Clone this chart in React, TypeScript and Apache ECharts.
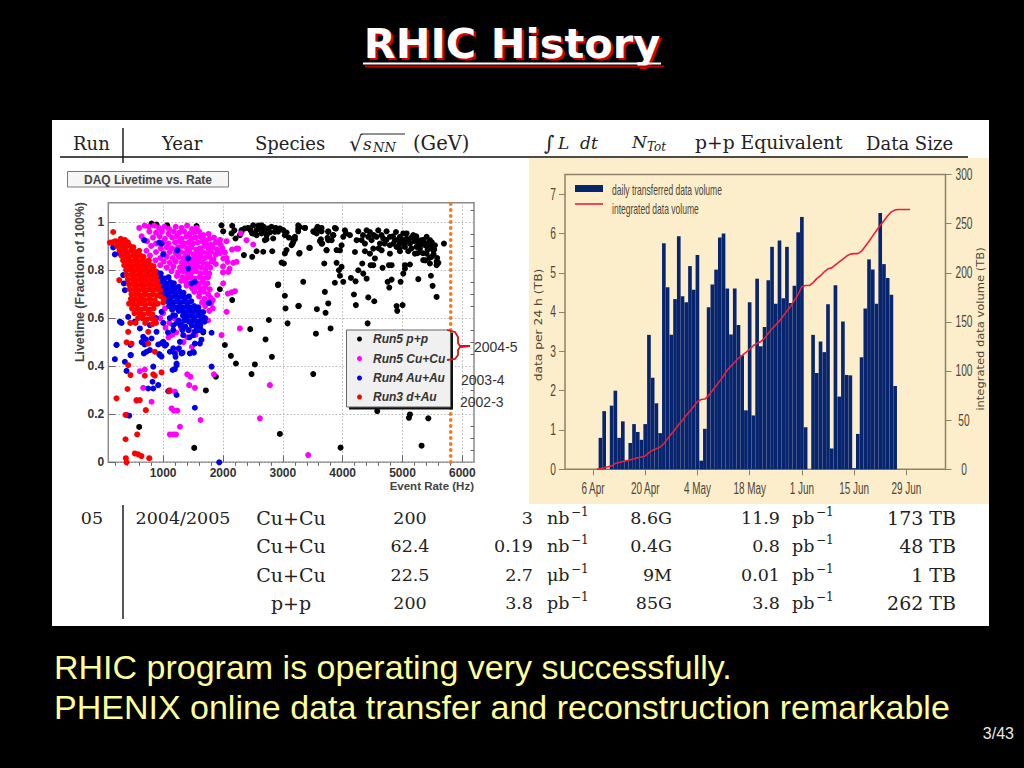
import React, { useEffect, useRef } from "react";
import * as echarts from "echarts";

// ---------- bar panel data ----------
const MONTH_DAYS: [string, number, number][] = [["Mar", 30, 31], ["Apr", 1, 30], ["May", 1, 31], ["Jun", 1, 30], ["Jul", 1, 9]];
const DAY_CATEGORIES: string[] = MONTH_DAYS.flatMap(([m, a, b]) => {
  const out: string[] = [];
  for (let d = a; d <= b; d++) out.push(`${d} ${m}`);
  return out;
});
const DATE_TICKS = ["6 Apr", "20 Apr", "4 May", "18 May", "1 Jun", "15 Jun", "29 Jun"];
const LEFT_TICKS = [0, 1, 2, 3, 4, 5, 6, 7];
const RIGHT_TICKS = [0, 50, 100, 150, 200, 250, 300];
const BAR_FIRST_CATEGORY = 9; // 8 Apr
const DAILY_TB = [
  0.8, 1.48, 0, 1.62, 2.0, 0.8, 1.22, 0.22, 0.67, 1.15, 0.95, 0.75, 1.15, 3.42, 2.33, 1.68, 0.92, 5.75, 4.63, 3.42,
  4.33, 5.93, 4.4, 4.25, 5.17, 4.57, 5.45, 0.22, 1.03, 4.12, 4.7, 5.08, 5.9, 6.0, 4.6, 3.43, 4.6, 3.67, 2.9, 1.5,
  4.25, 1.37, 4.85, 3.13, 3.62, 4.81, 5.66, 4.21, 5.82, 4.35, 5.66, 4.23, 4.67, 6.03, 6.42, 1.07, 0, 3.42, 2.45, 3.25,
  2.98, 4.2, 0.53, 4.68, 1.85, 3.76, 2.4, 2.39, 0.03, 0.9, 2.85, 4.09, 5.34, 5.08, 4.21, 6.52, 5.22, 4.87, 4.44, 2.12,
];
const LINE_FIRST_CATEGORY = 8; // 7 Apr
const INTEGRATED_TB = [
  0, 0.7, 1.5, 2.5, 3.5, 6, 7, 8, 8.8, 9.8, 10.7, 11.7, 12.6, 13.6, 17, 19.5, 21, 22.5, 26, 31, 36, 40.5, 45.5, 50, 55,
  59, 64, 69, 71, 71.5, 75, 80, 85, 90, 95, 101, 105, 109, 113, 116, 119, 122, 126, 128, 130, 133.5, 138.5, 143, 147,
  151, 156, 161, 166, 172, 178, 186, 187, 187, 190, 194, 197, 201, 204, 205, 208, 211, 214, 217, 219, 219.5, 219.5,
  222, 227, 232, 237.5, 243, 248, 253, 258, 262, 264, 264.4, 264.4, 264.4, 264.4,
];

// ---------- scatter panel data (rate in Hz, livetime fraction) ----------
const X_MAJOR = [1000, 2000, 3000, 4000, 5000, 6000];
const X_MINOR = [200, 400, 600, 800, 1200, 1400, 1600, 1800, 2200, 2400, 2600, 2800, 3200, 3400, 3600, 3800, 4200, 4400, 4600, 4800, 5200, 5400, 5600, 5800];
const Y_MAJOR = [0, 0.2, 0.4, 0.6, 0.8, 1];
const Y_MINOR = [0.05, 0.1, 0.15, 0.25, 0.3, 0.35, 0.45, 0.5, 0.55, 0.65, 0.7, 0.75, 0.85, 0.9, 0.95, 1.05];
const RATE_LIMIT = 5806;

const RUN5_PP: number[][] = [
  [1975,.986],[2003,.961],[2154,.984],[2143,.952],[2310,.966],[2366,.973],[2421,.975],[2505,.986],[2561,.966],[2616,.973],[2644,.986],[2700,.966],[2756,.973],[2811,.98],[2784,.956],[2561,.945],[2488,.952],[2644,.952],[2867,.959],[2728,.928],[2700,.924],[2839,.931],[2951,.973],[3006,.966],[3062,.956],[3034,.945],[2209,.931],[2282,.945],[2310,.959],[3202,.938],[3174,.917],[3257,.986],[3257,.961],[3369,.975],[3508,.961],[3564,.97],[3580,.98],[3647,.975],[3647,.961],[3759,.961],[3870,.975],[3842,.945],[3748,.934],[3815,.924],[3636,.928],[3658,.91],[3202,.928],[3146,.903],
  [3452,.892],[2561,.878],[2672,.876],[2823,.878],[3062,.883],[3034,.869],[3280,.871],[3731,.883],[3898,.883],[2349,.862],[2488,.855],[2979,.831],[3018,.827],[3692,.827],[3898,.83],[3982,.813],[3937,.799],[3954,.776],[2923,.74],[3341,.751],[3870,.747],[4010,.751],[3703,.709],[3034,.693],[3759,.661],[3268,.651],[3045,.64],[3569,.637],[3714,.622],[2767,.592],[3079,.578],[3798,.557],[2455,.554],[3553,.535],[2711,.511],[2031,.488],[1948,.72],[2154,.675],[2132,.443],[2216,.411],[1881,.356],[1714,.299],[1669,.54],[2817,.439],[2533,.407],[2477,.367],[2951,.118],[1519,.06],[599,.147],[806,.993],[889,.989],[1067,.986],[1558,.983],[2918,.737],[3258,.65],
  [3174,.931],[3163,.91],[3257,.972],[3285,.979],[3369,.975],[3519,.958],[3592,.975],[3564,.952],[3759,.958],[3842,.945],[3759,.924],[3620,.92],[3647,.91],[3887,.972],[4038,.965],[4121,.945],[4010,.938],[4054,.952],[3982,.903],[3954,.882],[3731,.882],[3441,.892],[3274,.868],[4260,.961],[4400,.965],[4456,.958],[4595,.965],[4734,.961],[4890,.958],[5069,.952],[5180,.945],[5013,.952],[4957,.938],[4233,.924],[4316,.924],[4428,.938],[4372,.91],[4483,.924],[4567,.938],[4678,.931],[4790,.938],[4873,.924],[4957,.91],[5069,.931],[5124,.91],[5041,.896],[4901,.896],[4790,.903],[4623,.91],[4511,.889],[4372,.878],[4205,.875],[4456,.868],[4539,.848],[4511,.82],[4467,.82],[4651,.882],[4790,.868],[4957,.878],[5096,.878],[5236,.896],[5208,.868],[5319,.924],[5403,.938],[5459,.924],[5375,.903],[5291,.889],[5403,.868],[5514,.882],[5542,.903],[5693,.91],[5486,.855],[5570,.834],[5570,.82],[5347,.841],[5459,.827],[5041,.82],[5124,.823],[5041,.806],[5013,.785],[4818,.82],[4773,.82],[4667,.809],[4327,.827],[4260,.799],[4344,.785],[4400,.764],[4138,.767],[4216,.753],[4751,.751],[4818,.76],[4779,.727],[4968,.751],[5264,.762],[5475,.776],[5503,.734],[4188,.698],[4428,.686],[4528,.67],[5570,.688],[4221,.654],[5002,.654],[4901,.65],[4912,.63],[4417,.578],[4578,.213],[5124,.199],[5108,.185],[5431,.183],[5319,.069],[3965,.061],[3508,.367],
  [5100,.925],[5150,.935],[5250,.925],[5300,.905],[5350,.925],[5400,.91],[5450,.905],[5500,.89],[5420,.885],[5520,.865],[5580,.85],[5600,.83],[5000,.925],[5030,.91],[4850,.91],[4700,.91],[4600,.89],[4950,.89],[5150,.89],[5340,.87],[5250,.87],[5450,.85],[5380,.84],
  [2190,.965],[2460,.965],[2530,.95],[2590,.985],[2680,.98],[2730,.945],[2880,.975],[2920,.96],[3100,.935],[4340,.945],[4520,.945],[4650,.945],[4730,.925],[4840,.94],[4920,.925],[5200,.92],[5270,.905],[5490,.915],[5530,.885],[5230,.94],
];

const RUN5_CUCU: number[][] = [
  [600,.975],[690,.985],[760,.98],[850,.985],[930,.975],[1020,.98],[1100,.97],[1210,.98],[1310,.975],[1400,.985],[1480,.97],[1560,.975],
  [770,.96],[880,.955],[980,.96],[1090,.95],[1180,.96],[1270,.955],[1350,.96],[1440,.95],[1520,.955],[1600,.96],[1670,.945],[1760,.95],
  [640,.94],[830,.935],[940,.94],[1030,.93],[1150,.935],[1230,.94],[1310,.93],[1390,.94],[1470,.93],[1540,.935],[1620,.94],[1690,.925],[1770,.93],[1850,.935],[1950,.925],
  [730,.92],[880,.91],[1000,.915],[1090,.91],[1200,.915],[1280,.92],[1350,.91],[1430,.915],[1500,.91],[1580,.915],[1650,.92],[1720,.91],[1800,.905],[1880,.915],[1960,.905],[2060,.92],
  [800,.9],[960,.89],[1060,.895],[1150,.89],[1250,.895],[1320,.9],[1400,.89],[1470,.895],[1550,.885],[1620,.89],[1690,.9],[1760,.89],[1830,.895],[1900,.885],[1990,.89],[2150,.885],
  [720,.88],[880,.875],[1010,.87],[1110,.875],[1210,.87],[1290,.875],[1370,.87],[1440,.875],[1510,.865],[1590,.87],[1660,.875],[1730,.87],[1800,.875],[1880,.865],[1950,.87],
  [780,.86],[950,.85],[1060,.855],[1160,.85],[1260,.855],[1340,.85],[1410,.855],[1490,.845],[1560,.85],[1630,.855],[1700,.85],[1770,.855],[1840,.845],[2060,.85],
  [870,.84],[1010,.835],[1110,.83],[1210,.835],[1310,.83],[1390,.835],[1460,.825],[1530,.83],[1600,.835],[1670,.83],[1740,.825],[1810,.835],[1880,.825],[2170,.83],
  [950,.82],[1060,.81],[1170,.815],[1280,.81],[1360,.815],[1430,.805],[1500,.81],[1570,.815],[1640,.81],[1710,.805],[1790,.81],[2000,.815],[2110,.805],
  [1140,.795],[1250,.79],[1330,.795],[1400,.785],[1480,.79],[1550,.795],[1620,.785],[1700,.79],[1770,.785],[2000,.79],
  [1230,.775],[1320,.77],[1390,.765],[1460,.77],[1530,.765],[1610,.77],[1680,.765],[1750,.77],
  [1300,.755],[1380,.75],[1450,.745],[1520,.75],[1600,.745],[1660,.75],[1740,.745],
  [1390,.735],[1480,.725],[1560,.73],[1620,.725],[1700,.73],[1780,.72],
  [1520,.71],[1610,.705],[1680,.71],[1750,.7],[2080,.702],[2200,.712],[2143,.707],[2003,.744],[1903,.696],
  [1600,.69],[1690,.68],[1790,.685],[1650,.665],[1720,.67],[1800,.66],[1830,.675],[1700,.65],[1770,.63],[1830,.64],[2060,.626],
  [1000,.62],[1100,.58],[1180,.6],[1300,.56],[1150,.53],[1400,.52],[1480,.48],[1250,.47],[1620,.56],[1750,.59],[1976,.529],[2282,.557],
  [950,.6],[1040,.56],[1220,.54],[1090,.52],[1340,.5],[1540,.53],[1440,.55],[1030,.64],[1180,.64],
  [611,.379],[694,.386],[666,.31],[555,.256],[806,.252],[1140,.224],[1179,.215],[1235,.215],[1280,.148],[1112,.116],[1168,.116],[1213,.116],[1625,.176],[388,.197],[1196,.294],[1402,.366],[1458,.356],[1435,.321],[1530,.31],[1848,.366],[1112,.3],[2784,.321],[2617,.183],[3424,.03],
  [2255,.889],[2227,.834],[2087,.792],[2004,.848],[2505,.906],[2393,.924],[2299,.952],[2226,.889],[2076,.834],[2031,.873],
];

const RUN4_AUAU: number[][] = [
  [900,.79],[960,.785],[900,.77],[960,.77],[1020,.765],[1090,.77],[930,.75],[1000,.75],[1060,.745],[1120,.75],[1180,.745],
  [950,.73],[1020,.73],[1080,.725],[1140,.73],[1200,.725],[1260,.73],[960,.71],[1040,.71],[1100,.705],[1160,.71],[1220,.705],[1280,.71],[1340,.705],
  [1000,.69],[1070,.69],[1130,.685],[1190,.69],[1250,.685],[1310,.69],[1370,.685],[1430,.69],[1050,.67],[1110,.67],[1170,.665],[1230,.67],[1290,.665],[1350,.67],[1410,.665],[1470,.67],
  [1100,.65],[1160,.65],[1220,.645],[1280,.65],[1340,.645],[1400,.65],[1460,.645],[1520,.65],[1590,.645],[1150,.635],[1260,.63],[1320,.63],[1380,.625],[1440,.63],[1500,.625],[1560,.63],[1620,.625],[1670,.625],
  [1200,.61],[1330,.61],[1400,.605],[1460,.61],[1520,.605],[1590,.61],[1650,.605],[1700,.6],[1260,.59],[1350,.59],[1430,.585],[1500,.59],[1560,.585],[1630,.59],[1690,.585],
  [1170,.57],[1290,.57],[1370,.565],[1480,.57],[1550,.565],[1620,.57],[1320,.55],[1420,.55],[1530,.545],[1590,.55],[1670,.545],
  [165,.894],[193,.865],[276,.869],[332,.779],[343,.744],[360,.716],[683,.924],[934,.914],[1001,.865],[1235,.882],[1419,.848],[1419,.806],[1530,.751],[1475,.744],[973,.91],[1764,.663],
  [304,.58],[220,.488],[193,.429],[360,.418],[388,.38],[454,.446],[415,.605],[527,.585],[611,.557],[711,.512],[1809,.539],[1614,.494],[1502,.46],[1446,.453],[1307,.453],[1207,.439],[1224,.404],[1196,.388],[1001,.501],[1050,.49],[945,.446],[722,.46],[677,.453],[889,.543],[806,.515],[1112,.46],[1168,.474],[1280,.501],[1614,.557],[1809,.398],[834,.398],[822,.335],[750,.307],[834,.307],[917,.321],[1085,.296],[1224,.28],[1530,.227],[432,.194],[1937,0],
  [221,.489],[455,.488],[640,.5],[690,.49],[460,.446],[778,.467],[917,.49],[973,.495],[1030,.485],[934,.45],[973,.44],[1196,.453],[1263,.474],[1324,.456],[1514,.456],[1530,.494],[1157,.384],[1224,.411],
  [276,.585],[778,.571],[666,.522],[973,.626],[1168,.612],[1307,.571],[1502,.529],[1335,.529],[1168,.55],[1080,.54],[1000,.58],[880,.6],[1110,.6],[1230,.58],[1440,.52],[1640,.51],
];

const RUN3_DAU: number[][] = [
  [290,.93],[360,.925],[150,.915],[200,.92],[270,.92],[340,.915],[410,.915],[230,.9],[300,.9],[370,.895],[440,.9],[500,.895],
  [270,.88],[340,.88],[410,.875],[470,.88],[540,.875],[600,.88],[300,.86],[370,.86],[430,.855],[500,.86],[560,.855],[620,.86],[670,.855],
  [330,.84],[400,.84],[470,.835],[530,.84],[590,.835],[650,.84],[710,.835],[760,.84],[350,.82],[420,.82],[490,.815],[550,.82],[610,.815],[670,.82],[730,.815],[790,.82],[840,.815],
  [380,.8],[450,.8],[510,.795],[570,.8],[630,.795],[690,.8],[750,.795],[810,.8],[870,.795],[390,.78],[470,.78],[530,.775],[590,.78],[650,.775],[710,.78],[770,.775],[830,.78],[880,.775],
  [410,.76],[490,.76],[550,.755],[610,.76],[670,.755],[730,.76],[790,.755],[850,.76],[900,.755],[430,.74],[500,.74],[570,.735],[630,.74],[690,.735],[750,.74],[810,.735],[870,.74],[920,.735],
  [440,.72],[520,.72],[590,.715],[650,.72],[710,.715],[770,.72],[830,.715],[890,.72],[950,.715],[470,.7],[550,.7],[620,.695],[690,.7],[760,.695],[830,.7],[900,.695],[960,.69],[1010,.68],
  [460,.68],[530,.68],[590,.675],[640,.68],[700,.675],[780,.68],[860,.675],[1000,.665],[430,.66],[500,.66],[570,.655],[640,.66],[700,.655],[780,.66],[850,.655],[910,.66],
  [480,.64],[560,.64],[630,.635],[700,.64],[770,.635],[840,.64],[520,.62],[600,.62],[670,.615],[750,.62],[820,.615],[580,.6],[650,.6],[730,.595],[800,.6],[860,.595],[450,.58],[540,.58],[700,.58],[820,.575],[880,.58],
  [165,.958],[109,.914],[265,.758],[415,.543],[388,.499],[471,.494],[750,.543],[750,.494],[861,.46],[415,.404],[454,.363],[694,.36],[834,.366],[973,.374],[404,.305],[1101,.296],[220,.266],[555,.259],[610,.259],[711,.217],[371,.197],[371,.096],[566,.116],[376,.017],[388,0],[527,.037],[583,.033],[638,.026],[767,.017],[861,.36],
];
const SCATTER_LEGEND = ["Run5 p+p", "Run5 Cu+Cu", "Run4 Au+Au", "Run3 d+Au"];
const SCATTER_COLORS = ["#000000", "#ff00ff", "#0000e6", "#ff0000"];

// ---------- table ----------
const HEADER_LEFT = ["Run", "Year", "Species"];
const SPECIES = ["Cu+Cu", "Cu+Cu", "Cu+Cu", "p+p"];
const ENERGY = ["200", "62.4", "22.5", "200"];
const LUMI = ["3", "0.19", "2.7", "3.8"];
const LUMI_UNIT = ["nb", "nb", "μb", "pb"];
const NTOT = ["8.6G", "0.4G", "9M", "85G"];
const PP_EQ = ["11.9", "0.8", "0.01", "3.8"];
const DATA_SIZE = ["173 TB", "48 TB", "1 TB", "262 TB"];

const SANS = "'Liberation Sans', Arial, sans-serif";
const SERIF = "'DejaVu Serif', serif";
const BROWN = "#8d8268";
const BROWN_TEXT = "#4d4638";
const SCATTER_GRID = { left: 108.3, top: 202.7, width: 365.7, height: 259.6 };
const BAR_GRID = { left: 565, top: 174.5, width: 380.5, height: 294.8 };

function txt(text: string, x: number, y: number, o: any = {}) {
  const { size = 18, font = SERIF, align = "left", weight = "normal", italic = false, color = "#222", scaleX = 1, rotation = 0, z = 30 } = o;
  return {
    type: "text", x, y, scaleX, rotation, z,
    style: { text, fontSize: size, fontFamily: font, fontWeight: weight, fontStyle: italic ? "italic" : "normal", fill: color, textAlign: align, textVerticalAlign: "middle" },
  };
}
const line = (x1: number, y1: number, x2: number, y2: number, stroke: string, lineWidth: number, z = 30) => ({
  type: "line", z, shape: { x1, y1, x2, y2 }, style: { stroke, lineWidth },
});
const rect = (x: number, y: number, width: number, height: number, fill: string, z = 0, stroke?: string) => ({
  type: "rect", z, shape: { x, y, width, height }, style: { fill, stroke, lineWidth: stroke ? 1 : 0 },
});

function staticGraphics(): any[] {
  const g: any[] = [];
  // slide
  g.push(rect(52, 120, 937, 506, "#ffffff"));
  g.push(rect(529, 158, 460, 346, "#fdeecb"));
  // title
  const title = { size: 41.5, font: "'DejaVu Sans', sans-serif", weight: "bold", align: "center" };
  g.push(txt("RHIC History", 514, 45, { ...title, color: "#d80000" }));
  g.push(txt("RHIC History", 512, 43, { ...title, color: "#ffffff" }));
  g.push(line(365, 66.5, 664, 66.5, "#c00000", 2));
  g.push(line(363, 63.5, 661, 63.5, "#ffffff", 2));
  // table header
  const H = 143;
  [[73], [162], [255]].forEach(([x], i) => g.push(txt(HEADER_LEFT[i], x, H)));
  g.push(txt("√", 349, H + 1, { size: 21 }));
  g.push(line(361, 134, 405, 134, "#222", 1));
  g.push(txt("s", 363, H + 1, { italic: true, size: 17 }));
  g.push(txt("NN", 373, H + 4, { italic: true, size: 13 }));
  g.push(txt("(GeV)", 413, H, { size: 19.5 }));
  g.push(txt("∫", 544, H, { italic: true, size: 20 }));
  g.push(txt("L  dt", 558, H, { italic: true, size: 17 }));
  g.push(txt("N", 632, H - 1, { italic: true, size: 17 }));
  g.push(txt("Tot", 647, H + 4, { italic: true, size: 12 }));
  g.push(txt("p+p Equivalent", 695, H, { scaleX: 1.04 }));
  g.push(txt("Data Size", 866, H));
  g.push(line(60, 157, 968, 157, "#111", 1.4));
  g.push(line(123, 128, 123, 163, "#111", 1.4));
  // table body
  const ROW_Y = [518, 546, 575, 603];
  g.push(txt("05", 92, ROW_Y[0], { align: "center", size: 17.5 }));
  g.push(txt("2004/2005", 183, ROW_Y[0], { align: "center", size: 17.5 }));
  g.push(line(123, 505, 123, 619, "#111", 1.4));
  const unit = (u: string, x: number, y: number) => {
    g.push(txt(u, x, y, { size: 17.5 }));
    g.push(txt("−1", x + 24, y - 6, { size: 12 }));
  };
  ROW_Y.forEach((y, i) => {
    g.push(txt(SPECIES[i], 291, y, { align: "center", size: 19 }));
    g.push(txt(ENERGY[i], 410, y, { align: "center", size: 17.5 }));
    g.push(txt(LUMI[i], 533, y, { align: "right", size: 17.5 }));
    unit(LUMI_UNIT[i], 547, y);
    g.push(txt(NTOT[i], 672, y, { align: "right", size: 17.5 }));
    g.push(txt(PP_EQ[i], 780, y, { align: "right", size: 17.5 }));
    unit("pb", 792, y);
    g.push(txt(DATA_SIZE[i], 956, y, { align: "right", size: 19 }));
  });
  // footer
  g.push(txt("RHIC program is operating very successfully.", 54, 667, { size: 34, font: SANS, color: "#ffff99" }));
  g.push(txt("PHENIX online data transfer and reconstruction remarkable", 54, 707, { size: 34, font: SANS, color: "#ffff99" }));
  g.push(txt("3/43", 1014, 733, { size: 16, font: SANS, color: "#e8e8e8", align: "right" }));
  // scatter annotations
  g.push(rect(67.5, 171.5, 161, 15.5, "#f6f6f6", 5, "#777"));
  g.push(txt("DAQ Livetime vs. Rate", 148, 179.5, { size: 12, font: SANS, weight: "bold", color: "#444", align: "center" }));
  g.push(txt("Livetime (Fraction of 100%)", 80, 282, { size: 12.3, font: SANS, weight: "bold", color: "#444", align: "center", rotation: Math.PI / 2 }));
  g.push(txt("Event Rate (Hz)", 474, 485.5, { size: 11.5, font: SANS, weight: "bold", color: "#444", align: "right" }));
  // scatter legend
  g.push(rect(349, 332.5, 104, 77, "#111", 20));
  g.push(rect(346.5, 330, 104, 77, "#f0f0f0", 21, "#666"));
  [339, 358.5, 378, 397].forEach((y, i) => {
    g.push({ type: "circle", z: 22, shape: { cx: 359.5, cy: y, r: 2.5 }, style: { fill: SCATTER_COLORS[i] } });
    g.push(txt(SCATTER_LEGEND[i], 373, y, { size: 12, font: SANS, weight: "bold", italic: true, color: "#333" }));
  });
  g.push({ type: "polyline", z: 32, shape: { points: [[447, 330], [455, 332], [458, 337], [458, 343], [460, 346], [470, 346], [460, 347], [458, 350], [458, 355], [455, 359], [447, 360]] }, style: { stroke: "#e01010", lineWidth: 1.8, fill: "none" } });
  g.push(txt("2004-5", 474, 347, { size: 14, font: SANS, color: "#333" }));
  g.push(txt("2003-4", 461, 380, { size: 14, font: SANS, color: "#333" }));
  g.push(txt("2002-3", 460, 402, { size: 14, font: SANS, color: "#333" }));
  // bar legend and axis names
  g.push(rect(575, 185, 28, 7, "#07246f", 25));
  g.push(line(575, 204, 603, 204, "#e8203c", 1.6));
  g.push(txt("daily transferred data volume", 612, 190, { size: 14, font: SANS, color: BROWN_TEXT, scaleX: 0.61 }));
  g.push(txt("integrated data volume", 612, 209.5, { size: 14, font: SANS, color: BROWN_TEXT, scaleX: 0.61 }));
  g.push(txt("data per 24 h (TB)", 538, 325, { size: 11, font: "'DejaVu Sans', sans-serif", color: BROWN_TEXT, align: "center", rotation: Math.PI / 2, scaleX: 1.12 }));
  g.push(txt("integrated data volume (TB)", 981, 329, { size: 10, font: "'DejaVu Sans', sans-serif", color: BROWN_TEXT, align: "center", rotation: Math.PI / 2, scaleX: 1.15 }));
  return g;
}

const nullsThen = (first: number, values: number[]) => DAY_CATEGORIES.map((_, i) => {
  const v = values[i - first];
  return v === undefined ? null : v;
});

const scatterSeries = (name: string, data: number[][], i: number) => ({
  name, type: "scatter", xAxisIndex: 0, yAxisIndex: 0, data, symbolSize: 6, z: 4 + i, clip: false,
  itemStyle: { color: SCATTER_COLORS[i], opacity: 1 }, silent: true,
});

const scatterAxisBase = { min: 83, max: 6195, type: "value" as const, gridIndex: 0, z: 3 };
const scatterYBase = { min: 0, max: 1.08, type: "value" as const, gridIndex: 0, z: 3 };
const SCATTER_LABEL = { fontFamily: SANS, fontWeight: "bold" as const, fontSize: 12, color: "#333" };

export default function App() {
  const ref = useRef<HTMLDivElement>(null);
  useEffect(() => {
    const chart = echarts.init(ref.current!, undefined, { renderer: "svg" });
    const tickSet = new Set(DATE_TICKS.map((t) => DAY_CATEGORIES.indexOf(t)));
    chart.setOption({
      animation: false,
      backgroundColor: "#000000",
      grid: [
        { ...SCATTER_GRID, show: true, backgroundColor: "#ffffff", borderColor: "#8a8a8a", borderWidth: 1.5, z: 1 },
        { ...BAR_GRID, show: true, backgroundColor: "transparent", borderColor: BROWN, borderWidth: 1.5, z: 1 },
      ],
      xAxis: [
        {
          ...scatterAxisBase,
          axisLine: { show: false },
          axisTick: { show: true, inside: true, length: 7, customValues: X_MAJOR, lineStyle: { color: "#666" } },
          axisLabel: { customValues: X_MAJOR, margin: 5, ...SCATTER_LABEL, formatter: (v: number) => String(v) },
          splitLine: { show: true, lineStyle: { color: "#b5b5b5", type: [1.5, 2], width: 1 } },
        },
        {
          type: "category", gridIndex: 1, data: DAY_CATEGORIES, boundaryGap: true, z: 8,
          axisLine: { show: false },
          axisTick: { show: true, alignWithLabel: true, length: 6, interval: (i: number) => tickSet.has(i), lineStyle: { color: BROWN } },
          axisLabel: { show: false },
          splitLine: { show: false },
        },
        {
          ...scatterAxisBase,
          axisLine: { show: false },
          axisTick: { show: true, inside: true, length: 3.5, customValues: X_MINOR, lineStyle: { color: "#666" } },
          axisLabel: { show: false },
          splitLine: { show: false },
        },
      ],
      yAxis: [
        {
          ...scatterYBase,
          axisLine: { show: false },
          axisTick: { show: true, inside: true, length: 7, customValues: Y_MAJOR, lineStyle: { color: "#666" } },
          axisLabel: { customValues: Y_MAJOR, margin: 4, ...SCATTER_LABEL, formatter: (v: number) => String(v) },
          splitLine: { show: true, lineStyle: { color: "#b5b5b5", type: [1.5, 2], width: 1 } },
        },
        {
          type: "value", gridIndex: 1, min: 0, max: 7.5, position: "left", z: 8,
          axisLine: { show: false },
          axisTick: { show: true, length: 6, customValues: LEFT_TICKS, lineStyle: { color: BROWN } },
          axisLabel: { show: false },
          splitLine: { show: false },
        },
        {
          type: "value", gridIndex: 1, min: 0, max: 300, interval: 50, position: "right", z: 8,
          axisLine: { show: false },
          axisTick: { show: true, length: 6, lineStyle: { color: BROWN } },
          axisLabel: { show: false },
          splitLine: { show: false },
        },
        {
          ...scatterYBase,
          axisLine: { show: false },
          axisTick: { show: true, inside: true, length: 3.5, customValues: Y_MINOR, lineStyle: { color: "#666" } },
          axisLabel: { show: false },
          splitLine: { show: false },
        },
      ],
      series: [
        scatterSeries(SCATTER_LEGEND[0], RUN5_PP, 0),
        scatterSeries(SCATTER_LEGEND[1], RUN5_CUCU, 1),
        scatterSeries(SCATTER_LEGEND[2], RUN4_AUAU, 2),
        scatterSeries(SCATTER_LEGEND[3], RUN3_DAU, 3),
        {
          name: "rate limit", type: "line", xAxisIndex: 0, yAxisIndex: 0, z: 9, showSymbol: false, silent: true,
          data: [[RATE_LIMIT, 0], [RATE_LIMIT, 1.08]],
          lineStyle: { color: "#f47a1f", width: 3.6, type: [0.5, 5.5], cap: "round" },
        },
        {
          name: "daily transferred data volume", type: "bar", xAxisIndex: 1, yAxisIndex: 1, z: 5, silent: true,
          data: nullsThen(BAR_FIRST_CATEGORY, DAILY_TB), barCategoryGap: "2%",
          itemStyle: { color: "#07246f" },
        },
        {
          name: "integrated data volume", type: "line", xAxisIndex: 1, yAxisIndex: 2, z: 6, silent: true,
          showSymbol: false, data: nullsThen(LINE_FIRST_CATEGORY, INTEGRATED_TB),
          lineStyle: { color: "#e8203c", width: 1.6 },
        },
      ],
      graphic: { elements: staticGraphics() },
    });

    // The panel's condensed tick labels are placed through the chart's own axes.
    const tickLabels: any[] = [];
    DATE_TICKS.forEach((t) => {
      const x = chart.convertToPixel({ xAxisIndex: 1 } as any, t) as number;
      tickLabels.push(txt(t, x, 488.5, { size: 16, font: SANS, color: BROWN_TEXT, align: "center", scaleX: 0.62 }));
    });
    LEFT_TICKS.forEach((v) => {
      const y = chart.convertToPixel({ yAxisIndex: 1 } as any, v) as number;
      tickLabels.push(txt(String(v), 553, y, { size: 16.5, font: SANS, color: BROWN_TEXT, align: "center", scaleX: 0.62 }));
    });
    RIGHT_TICKS.forEach((v) => {
      const y = chart.convertToPixel({ yAxisIndex: 2 } as any, v) as number;
      tickLabels.push(txt(String(v), 964, y, { size: 16.5, font: SANS, color: BROWN_TEXT, align: "center", scaleX: 0.62 }));
    });
    chart.setOption({ graphic: { elements: [...staticGraphics(), ...tickLabels] } });
    return () => chart.dispose();
  }, []);
  return <div ref={ref} style={{ position: "absolute", left: 0, top: 0, width: 1024, height: 768 }} />;
}
